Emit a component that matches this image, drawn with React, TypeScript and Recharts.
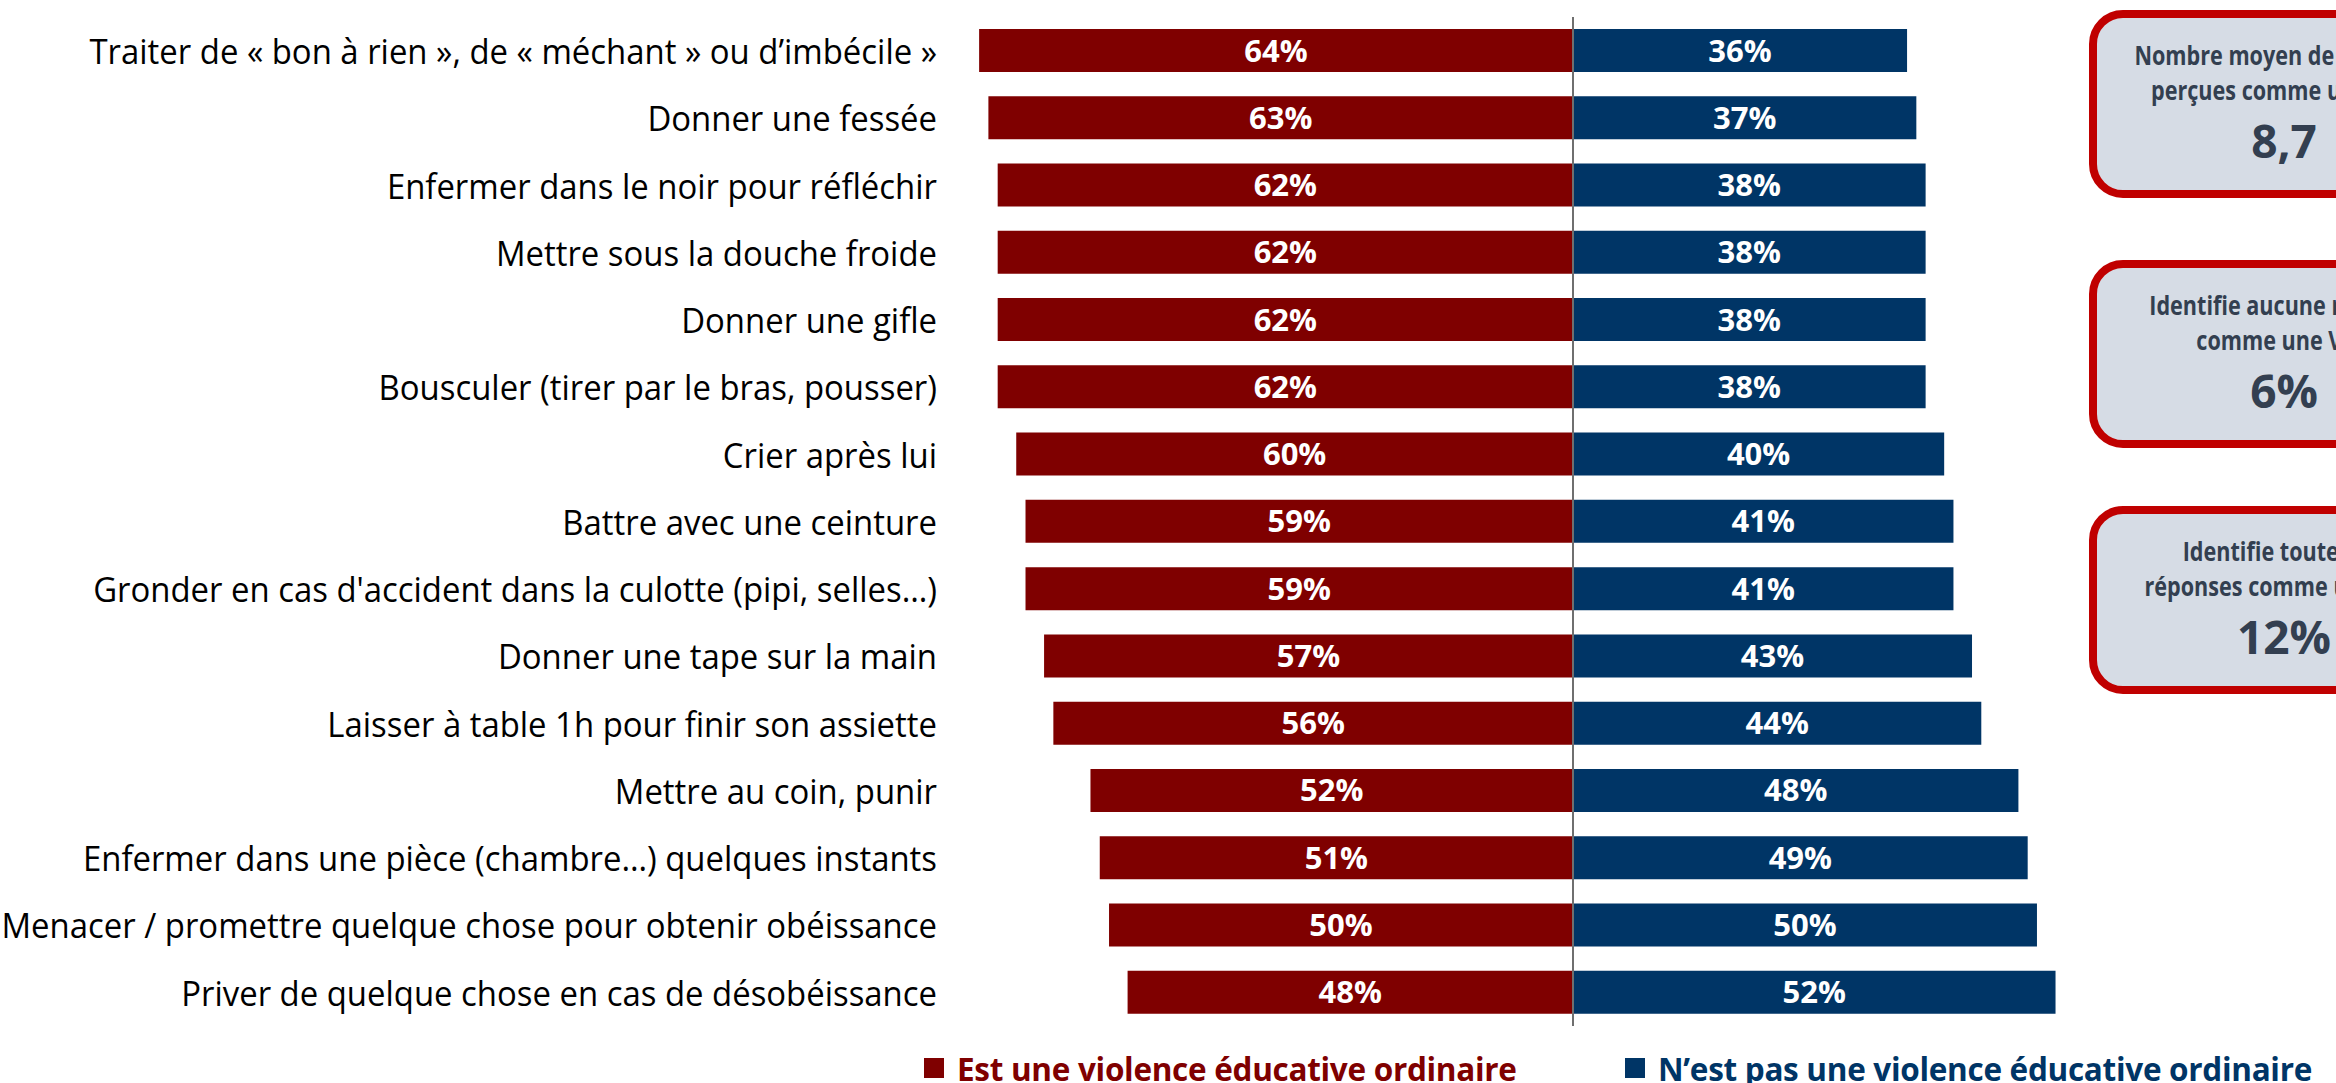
import React from "react";
import { BarChart, Bar, XAxis, YAxis, ReferenceLine, LabelList } from "recharts";

const categories = [
  "Traiter de « bon à rien », de « méchant » ou d’imbécile »",
  "Donner une fessée",
  "Enfermer dans le noir pour réfléchir",
  "Mettre sous la douche froide",
  "Donner une gifle",
  "Bousculer (tirer par le bras, pousser)",
  "Crier après lui",
  "Battre avec une ceinture",
  "Gronder en cas d'accident dans la culotte (pipi, selles…)",
  "Donner une tape sur la main",
  "Laisser à table 1h pour finir son assiette",
  "Mettre au coin, punir",
  "Enfermer dans une pièce (chambre…) quelques instants",
  "Menacer / promettre quelque chose pour obtenir obéissance",
  "Priver de quelque chose en cas de désobéissance",
];
const estVeo = [64, 63, 62, 62, 62, 62, 60, 59, 59, 57, 56, 52, 51, 50, 48];
const pasVeo = [36, 37, 38, 38, 38, 38, 40, 41, 41, 43, 44, 48, 49, 50, 52];

const seriesNames = ["Est une violence éducative ordinaire", "N’est pas une violence éducative ordinaire"];

// encadrés à droite
const boxTitles = [
  ["Nombre moyen de réponses", "perçues comme une VEO"],
  ["Identifie aucune réponse", "comme une VEO"],
  ["Identifie toutes les", "réponses comme une VEO"],
];
const boxValues = ["8,7", "6%", "12%"];

const RED = "#7f0000";
const BLUE = "#003566";
const FONT = "'Open Sans', sans-serif";

const data = categories.map((name, i) => ({ name, est: -estVeo[i], pas: pasVeo[i] }));

const pct = (v: any) => `${Math.abs(Number(v))}%`;

const BOX_TOPS = [10, 260, 506];

// libellés un peu resserrés, façon Calibri
function CategoryTick(props: any) {
  const { x, y, payload } = props;
  return (
    <text
      transform={`translate(${x},${y}) scale(0.94,1)`}
      textAnchor="end"
      dominantBaseline="central"
      fontFamily={FONT}
      fontSize={35}
      fill="#000"
    >
      {payload.value}
    </text>
  );
}

function ChartLegend() {
  const items = [
    { label: seriesNames[0], colour: RED, left: 924 },
    { label: seriesNames[1], colour: BLUE, left: 1625 },
  ];
  return (
    <>
      {items.map(it => (
        <div key={it.label} style={{ position: "absolute", left: it.left, top: 1048, height: 40, display: "flex", alignItems: "center", gap: 13 }}>
          <span style={{ width: 20, height: 20, background: it.colour, display: "inline-block" }} />
          <span style={{ fontFamily: FONT, fontWeight: 700, fontSize: 31.5, color: it.colour, whiteSpace: "nowrap", letterSpacing: -0.3 }}>{it.label}</span>
        </div>
      ))}
    </>
  );
}

export default function App() {
  const lineStyle = (top: number): React.CSSProperties => ({
    position: "absolute", left: 0, right: 0, top, fontSize: 27, lineHeight: "32px",
    transform: "scaleX(0.8)", transformOrigin: "50% 50%",
  });
  return (
    <div style={{ position: "absolute", left: 0, top: 0, width: 2336, height: 1083, overflow: "hidden", background: "#fff" }}>
      <style>{`body{margin:0}`}</style>
      <BarChart
        width={2336}
        height={1083}
        data={data}
        layout="vertical"
        stackOffset="sign"
        barSize={43}
        margin={{ top: 17, right: 132, bottom: 57, left: 0 }}
      >
        <XAxis type="number" domain={[-68, 68]} hide />
        <YAxis
          type="category"
          dataKey="name"
          width={942}
          axisLine={false}
          tickLine={false}
          tickSize={0}
          tickMargin={5}
          tick={<CategoryTick />}
        />
        <Bar dataKey="est" stackId="a" fill={RED} isAnimationActive={false} name={seriesNames[0]}>
          <LabelList dataKey="est" position="center" formatter={pct} fill="#fff" fontFamily={FONT} fontWeight={700} fontSize={31} />
        </Bar>
        <Bar dataKey="pas" stackId="a" fill={BLUE} isAnimationActive={false} name={seriesNames[1]}>
          <LabelList dataKey="pas" position="center" formatter={pct} fill="#fff" fontFamily={FONT} fontWeight={700} fontSize={31} />
        </Bar>
        <ReferenceLine x={0} stroke="#6f6f6f" strokeWidth={2} />
      </BarChart>

      <ChartLegend />

      {boxTitles.map((lines, i) => (
        <div
          key={i}
          style={{
            position: "absolute",
            left: 2089,
            top: BOX_TOPS[i],
            width: 390,
            height: 188,
            boxSizing: "border-box",
            border: "8px solid #c00000",
            borderRadius: 34,
            background: "#d6dce5",
            color: "#333f50",
            fontFamily: FONT,
            fontWeight: 700,
            textAlign: "center",
            whiteSpace: "nowrap",
          }}
        >
          <div style={lineStyle(21)}>{lines[0]}</div>
          <div style={lineStyle(56)}>{lines[1]}</div>
          <div style={{ position: "absolute", left: 0, right: 0, top: 97, fontSize: 46, lineHeight: "50px" }}>
            {boxValues[i]}
          </div>
        </div>
      ))}
    </div>
  );
}
